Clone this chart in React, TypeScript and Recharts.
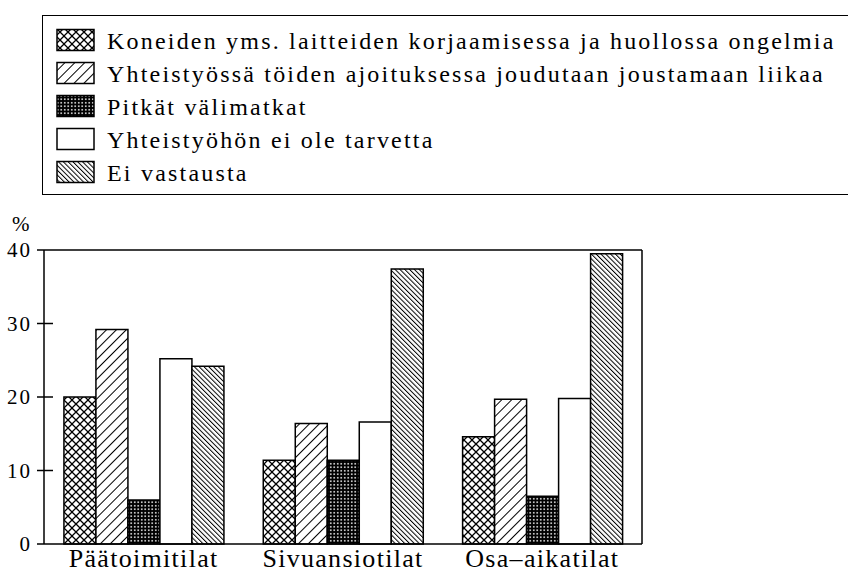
import React from 'react';
import { BarChart, Bar, XAxis, YAxis, ReferenceLine } from 'recharts';

// values in percent
const categories = ['Päätoimitilat', 'Sivuansiotilat', 'Osa–aikatilat'];
const koneidenHuolto = [20, 11.4, 14.6];
const ajoitusJoustaminen = [29.2, 16.4, 19.7];
const pitkatValimatkat = [6, 11.4, 6.5];
const eiTarvetta = [25.2, 16.6, 19.8];
const eiVastausta = [24.2, 37.4, 39.5];

const leftTicks = [0, 10, 20, 30, 40];
const rightTicks = [0, 10, 20, 30, 40, 50];

const series = [
  { key: 'koneet', name: 'Koneiden yms. laitteiden korjaamisessa ja huollossa ongelmia', fill: 'url(#patCross)' },
  { key: 'ajoitus', name: 'Yhteistyössä töiden ajoituksessa joudutaan joustamaan liikaa', fill: 'url(#patFwd)' },
  { key: 'matkat', name: 'Pitkät välimatkat', fill: 'url(#patDots)' },
  { key: 'tarve', name: 'Yhteistyöhön ei ole tarvetta', fill: '#fff' },
  { key: 'eivast', name: 'Ei vastausta', fill: 'url(#patBack)' },
];

const data = categories.map((name, i) => ({
  name,
  koneet: koneidenHuolto[i],
  ajoitus: ajoitusJoustaminen[i],
  matkat: pitkatValimatkat[i],
  tarve: eiTarvetta[i],
  eivast: eiVastausta[i],
}));

const FONT = '"Liberation Serif", serif';

function Patterns() {
  return (
    <defs>
      <pattern id="patCross" patternUnits="userSpaceOnUse" width="8" height="8">
        <rect width="8" height="8" fill="#fff" />
        <path d="M-1,-1 L9,9 M9,-1 L-1,9" stroke="#000" strokeWidth="1.3" />
      </pattern>
      <pattern id="patFwd" patternUnits="userSpaceOnUse" width="7" height="7" patternTransform="rotate(45)">
        <rect width="7" height="7" fill="#fff" />
        <line x1="0" y1="0" x2="0" y2="7" stroke="#000" strokeWidth="2" />
      </pattern>
      <pattern id="patBack" patternUnits="userSpaceOnUse" width="3.4" height="3.4" patternTransform="rotate(-45)">
        <rect width="3.4" height="3.4" fill="#fff" />
        <line x1="0" y1="0" x2="0" y2="3.4" stroke="#000" strokeWidth="2" />
      </pattern>
      <pattern id="patDots" patternUnits="userSpaceOnUse" width="3.5" height="3.5">
        <rect width="3.5" height="3.5" fill="#000" />
        <circle cx="1.75" cy="1.75" r="0.9" fill="#fff" />
      </pattern>
    </defs>
  );
}

const LeftTick = (props: any) => {
  const { x, y, payload } = props;
  const v = payload.value;
  const cross = v !== 0 && v !== 40;
  return (
    <g>
      <line x1={x - 7} y1={y} x2={cross ? x + 9 : x} y2={y} stroke="#000" strokeWidth={1.5} />
      <text x={x - 12} y={y} dy="0.35em" textAnchor="end" fontSize={21} fontFamily={FONT} fill="#000" letterSpacing={2}>
        {v}
      </text>
    </g>
  );
};

const RightTick = (props: any) => {
  const { x, y, payload } = props;
  const v = payload.value;
  if (v === 0) return <g />;
  if (v === 50) return <line x1={x} y1={y} x2={x + 8} y2={y} stroke="#000" strokeWidth={1.5} />;
  return <line x1={x - 9} y1={y} x2={x + 9} y2={y} stroke="#000" strokeWidth={1.5} />;
};

function LegendBox() {
  const tops = [40, 73, 106, 139, 172];
  return (
    <>
      <div
        style={{
          position: 'absolute',
          left: 42,
          top: 15,
          width: 840,
          height: 178,
          borderTop: '1.5px solid #000',
          borderLeft: '1.5px solid #000',
          borderBottom: '1.5px solid #000',
        }}
      />
      {series.map((s, i) => (
        <div
          key={s.key}
          style={{
            position: 'absolute',
            left: 56,
            top: tops[i] - 12,
            height: 24,
            display: 'flex',
            alignItems: 'center',
            whiteSpace: 'nowrap',
            fontFamily: FONT,
            fontSize: 24,
            letterSpacing: 2.2,
          }}
        >
          <svg width={40} height={24} style={{ display: 'block' }}>
            <rect x={1} y={1.5} width={37} height={21} fill={s.fill} stroke="#000" strokeWidth={1.5} />
          </svg>
          <span style={{ marginLeft: 11, position: 'relative', top: 1 }}>{s.name}</span>
        </div>
      ))}
    </>
  );
}

export default function App() {
  return (
    <div style={{ position: 'absolute', left: 0, top: 0, width: 848, height: 575, background: '#fff', overflow: 'hidden' }}>
      <LegendBox />
      <div style={{ position: 'absolute', left: 12, top: 212, fontFamily: FONT, fontSize: 21 }}>%</div>
      <div style={{ position: 'absolute', left: 0, top: 0 }}>
        <BarChart
          width={848}
          height={575}
          data={data}
          margin={{ top: 250, right: 196, left: 0, bottom: 0 }}
          barCategoryGap="10%"
          barGap={0}
        >
          <Patterns />
          <XAxis
            dataKey="name"
            axisLine={{ stroke: '#000', strokeWidth: 1.5 }}
            tickLine={false}
            tickSize={0}
            tickMargin={5}
            height={31}
            tick={{ fill: '#000', fontSize: 26, fontFamily: FONT, letterSpacing: 1.3 }}
          />
          <YAxis
            yAxisId="left"
            width={44}
            domain={[0, 40]}
            ticks={leftTicks}
            tickSize={0}
            tickMargin={0}
            tickLine={false}
            axisLine={{ stroke: '#000', strokeWidth: 1.5 }}
            tick={<LeftTick />}
          />
          <YAxis
            yAxisId="right"
            orientation="right"
            width={10}
            domain={[0, 50]}
            ticks={rightTicks}
            tickSize={0}
            tickMargin={0}
            tickLine={false}
            axisLine={{ stroke: '#000', strokeWidth: 1.5 }}
            tick={<RightTick />}
          />
          <ReferenceLine yAxisId="left" y={40} stroke="#000" strokeWidth={1.5} />
          {series.map((s) => (
            <Bar
              key={s.key}
              yAxisId="left"
              dataKey={s.key}
              name={s.name}
              fill={s.fill}
              stroke="#000"
              strokeWidth={1.5}
              isAnimationActive={false}
            />
          ))}
        </BarChart>
      </div>
    </div>
  );
}
